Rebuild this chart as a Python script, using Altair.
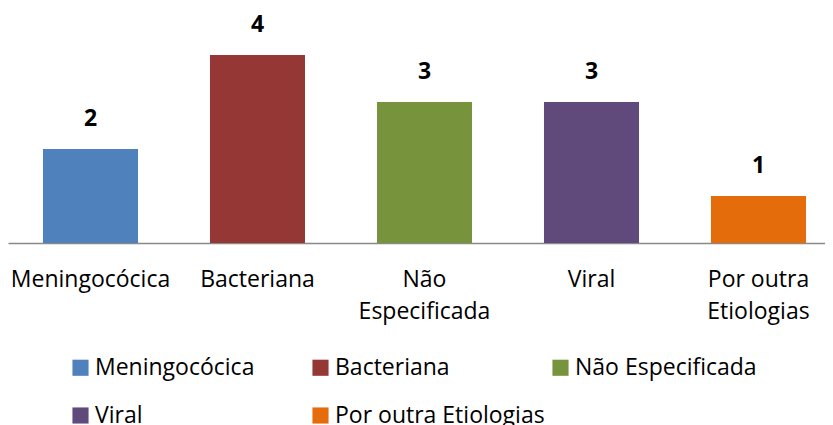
import json
import altair as alt
import pandas as pd

categories = ["Meningocócica", "Bacteriana", "Não Especificada", "Viral", "Por outra Etiologias"]
values = [2, 4, 3, 3, 1]
colors = ["#4F81BD", "#953735", "#77933C", "#604A7B", "#E46C0A"]
axis_label_lines = [["Meningocócica"], ["Bacteriana"], ["Não", "Especificada"], ["Viral"], ["Por outra", "Etiologias"]]

df = pd.DataFrame({"cat": categories, "val": values})

FONT = "Open Sans"

label_expr = " : ".join(
    f"datum.value == '{c}' ? {json.dumps(l, ensure_ascii=False)}" for c, l in zip(categories, axis_label_lines)
) + " : datum.label"

x = alt.X(
    "cat:N",
    sort=categories,
    scale=alt.Scale(paddingInner=0.431, paddingOuter=0.1616, align=0.648),
    axis=alt.Axis(
        title=None,
        labelExpr=label_expr,
        labelFont=FONT,
        labelFontSize=23,
        labelColor="#000000",
        labelPadding=25,
        labelBaseline="top",
        labelLineHeight=32,
        labelAngle=0,
        ticks=False,
        tickSize=0,
        grid=False,
        domainColor="#898989",
        domainWidth=1.5,
        labelLimit=400,
    ),
)
y = alt.Y("val:Q", scale=alt.Scale(domain=[0, 5]), axis=None)

bars = alt.Chart(df).mark_bar(opacity=1).encode(
    x=x,
    y=y,
    color=alt.Color(
        "cat:N",
        sort=categories,
        scale=alt.Scale(domain=categories, range=colors),
        legend=alt.Legend(
            title=None,
            orient="none",
            direction="horizontal",
            legendX=61,
            legendY=348,
            columns=3,
            gridAlign="all",
            symbolType="square",
            symbolSize=260,
            symbolStrokeWidth=0,
            symbolOpacity=1,
            labelFont=FONT,
            labelFontSize=23,
            labelColor="#000000",
            labelOffset=3,
            labelLimit=400,
            columnPadding=4,
            rowPadding=24,
        ),
    ),
)

text = alt.Chart(df).mark_text(
    font=FONT, fontSize=23, fontWeight="bold", dy=-23, baseline="alphabetic", color="#000000"
).encode(x=x, y=y, text="val:Q")

chart = (
    alt.layer(bars, text)
    .properties(
        width=817,
        height=235,
        padding={"left": 0, "top": 0, "right": 0, "bottom": 182},
        autosize=alt.AutoSizeParams(type="none"),
        background="white",
    )
    .configure_view(stroke=None)
)

chart.save("out.html", embed_options={"renderer": "svg", "actions": False})
